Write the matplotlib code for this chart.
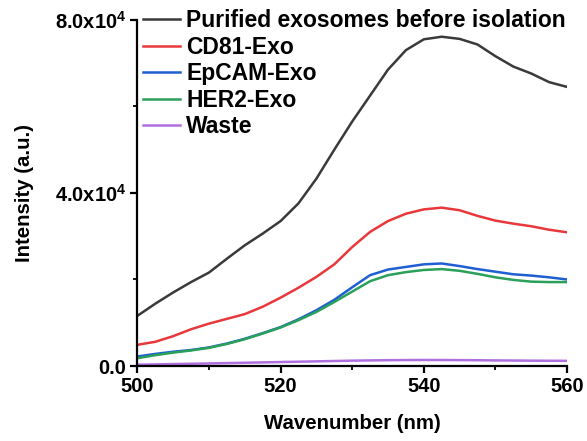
import matplotlib
matplotlib.use("Agg")
import matplotlib.pyplot as plt
from matplotlib.ticker import MultipleLocator

plt.rcParams['font.family'] = ['Liberation Sans', 'DejaVu Sans']
plt.rcParams['font.weight'] = 'bold'
plt.rcParams['mathtext.fontset'] = 'custom'
plt.rcParams['mathtext.rm'] = 'Liberation Sans:bold'
plt.rcParams['mathtext.bf'] = 'Liberation Sans:bold'
plt.rcParams['mathtext.it'] = 'Liberation Sans:bold'

wavelength = [500, 502.5, 505, 507.5, 510, 512.5, 515, 517.5, 520, 522.5, 525, 527.5,
              530, 532.5, 535, 537.5, 540, 542.5, 545, 547.5, 550, 552.5, 555, 557.5, 560]

purified = [11600, 14400, 17000, 19400, 21600, 24800, 27900, 30600, 33500, 37600, 43300, 50000,
            56500, 62500, 68500, 73000, 75500, 76100, 75600, 74300, 71600, 69200, 67600, 65600, 64500]
cd81 = [4900, 5600, 6900, 8500, 9800, 10900, 12000, 13700, 15800, 18100, 20600, 23500,
        27500, 31000, 33500, 35200, 36200, 36600, 36000, 34700, 33600, 32900, 32300, 31500, 30900]
epcam = [2200, 2800, 3300, 3700, 4300, 5200, 6300, 7600, 9000, 10800, 12900, 15300,
         18200, 21000, 22300, 22900, 23500, 23700, 23100, 22400, 21800, 21200, 20900, 20500, 20000]
her2 = [1800, 2500, 3100, 3600, 4200, 5100, 6200, 7500, 8900, 10600, 12500, 14800,
        17200, 19600, 21000, 21700, 22200, 22400, 22000, 21300, 20500, 19900, 19500, 19400, 19400]
waste = [300, 380, 450, 520, 600, 680, 760, 840, 920, 1000, 1080, 1160,
         1240, 1300, 1350, 1380, 1400, 1390, 1370, 1340, 1300, 1270, 1240, 1220, 1200]

labels = ["Purified exosomes before isolation", "CD81-Exo", "EpCAM-Exo", "HER2-Exo", "Waste"]
colors = ["#3a3a3a", "#e8383b", "#1f5fd1", "#2aa05a", "#b070e0"]
series = [purified, cd81, epcam, her2, waste]

yticks = [0, 40000, 80000]
yticklabels = [r"0.0", r"4.0x10$^{4}$", r"8.0x10$^{4}$"]
xticks = [500, 520, 540, 560]

fig = plt.figure(figsize=(5.87, 4.41), dpi=100)
ax = fig.add_axes([0.234, 0.170, 0.732, 0.785])

for ys, c, lab in zip(series, colors, labels):
    ax.plot(wavelength, ys, color=c, lw=1.8, label=lab)

ax.set_xlim(500, 560)
ax.set_ylim(0, 80000)
ax.set_xticks(xticks)
ax.set_xticklabels([str(x) for x in xticks], fontsize=14.5, fontweight='bold')
ax.set_yticks(yticks)
ax.set_yticklabels(yticklabels, fontsize=14.5, fontweight='bold')
ax.xaxis.set_minor_locator(MultipleLocator(10))
ax.yaxis.set_minor_locator(MultipleLocator(20000))

for s in ['top', 'right']:
    ax.spines[s].set_visible(False)
for s in ['left', 'bottom']:
    ax.spines[s].set_linewidth(1.6)
ax.tick_params(which='major', direction='out', length=5, width=1.6, pad=3)
ax.tick_params(which='minor', direction='out', length=3, width=1.3)

ax.set_xlabel("Wavenumber (nm)", fontsize=14.7, fontweight='bold')
ax.set_ylabel("Intensity (a.u.)", fontsize=14.7, fontweight='bold')
ax.xaxis.set_label_coords(0.5, -0.14)
ax.yaxis.set_label_coords(-0.24, 0.5)

leg = ax.legend(loc='upper left', bbox_to_anchor=(-0.009, 1.057), frameon=False,
                prop={'size': 16.5, 'weight': 'bold'}, handlelength=1.65,
                handletextpad=0.25, labelspacing=0.155, borderaxespad=0.0)

fig.savefig("out.png", dpi=100)
